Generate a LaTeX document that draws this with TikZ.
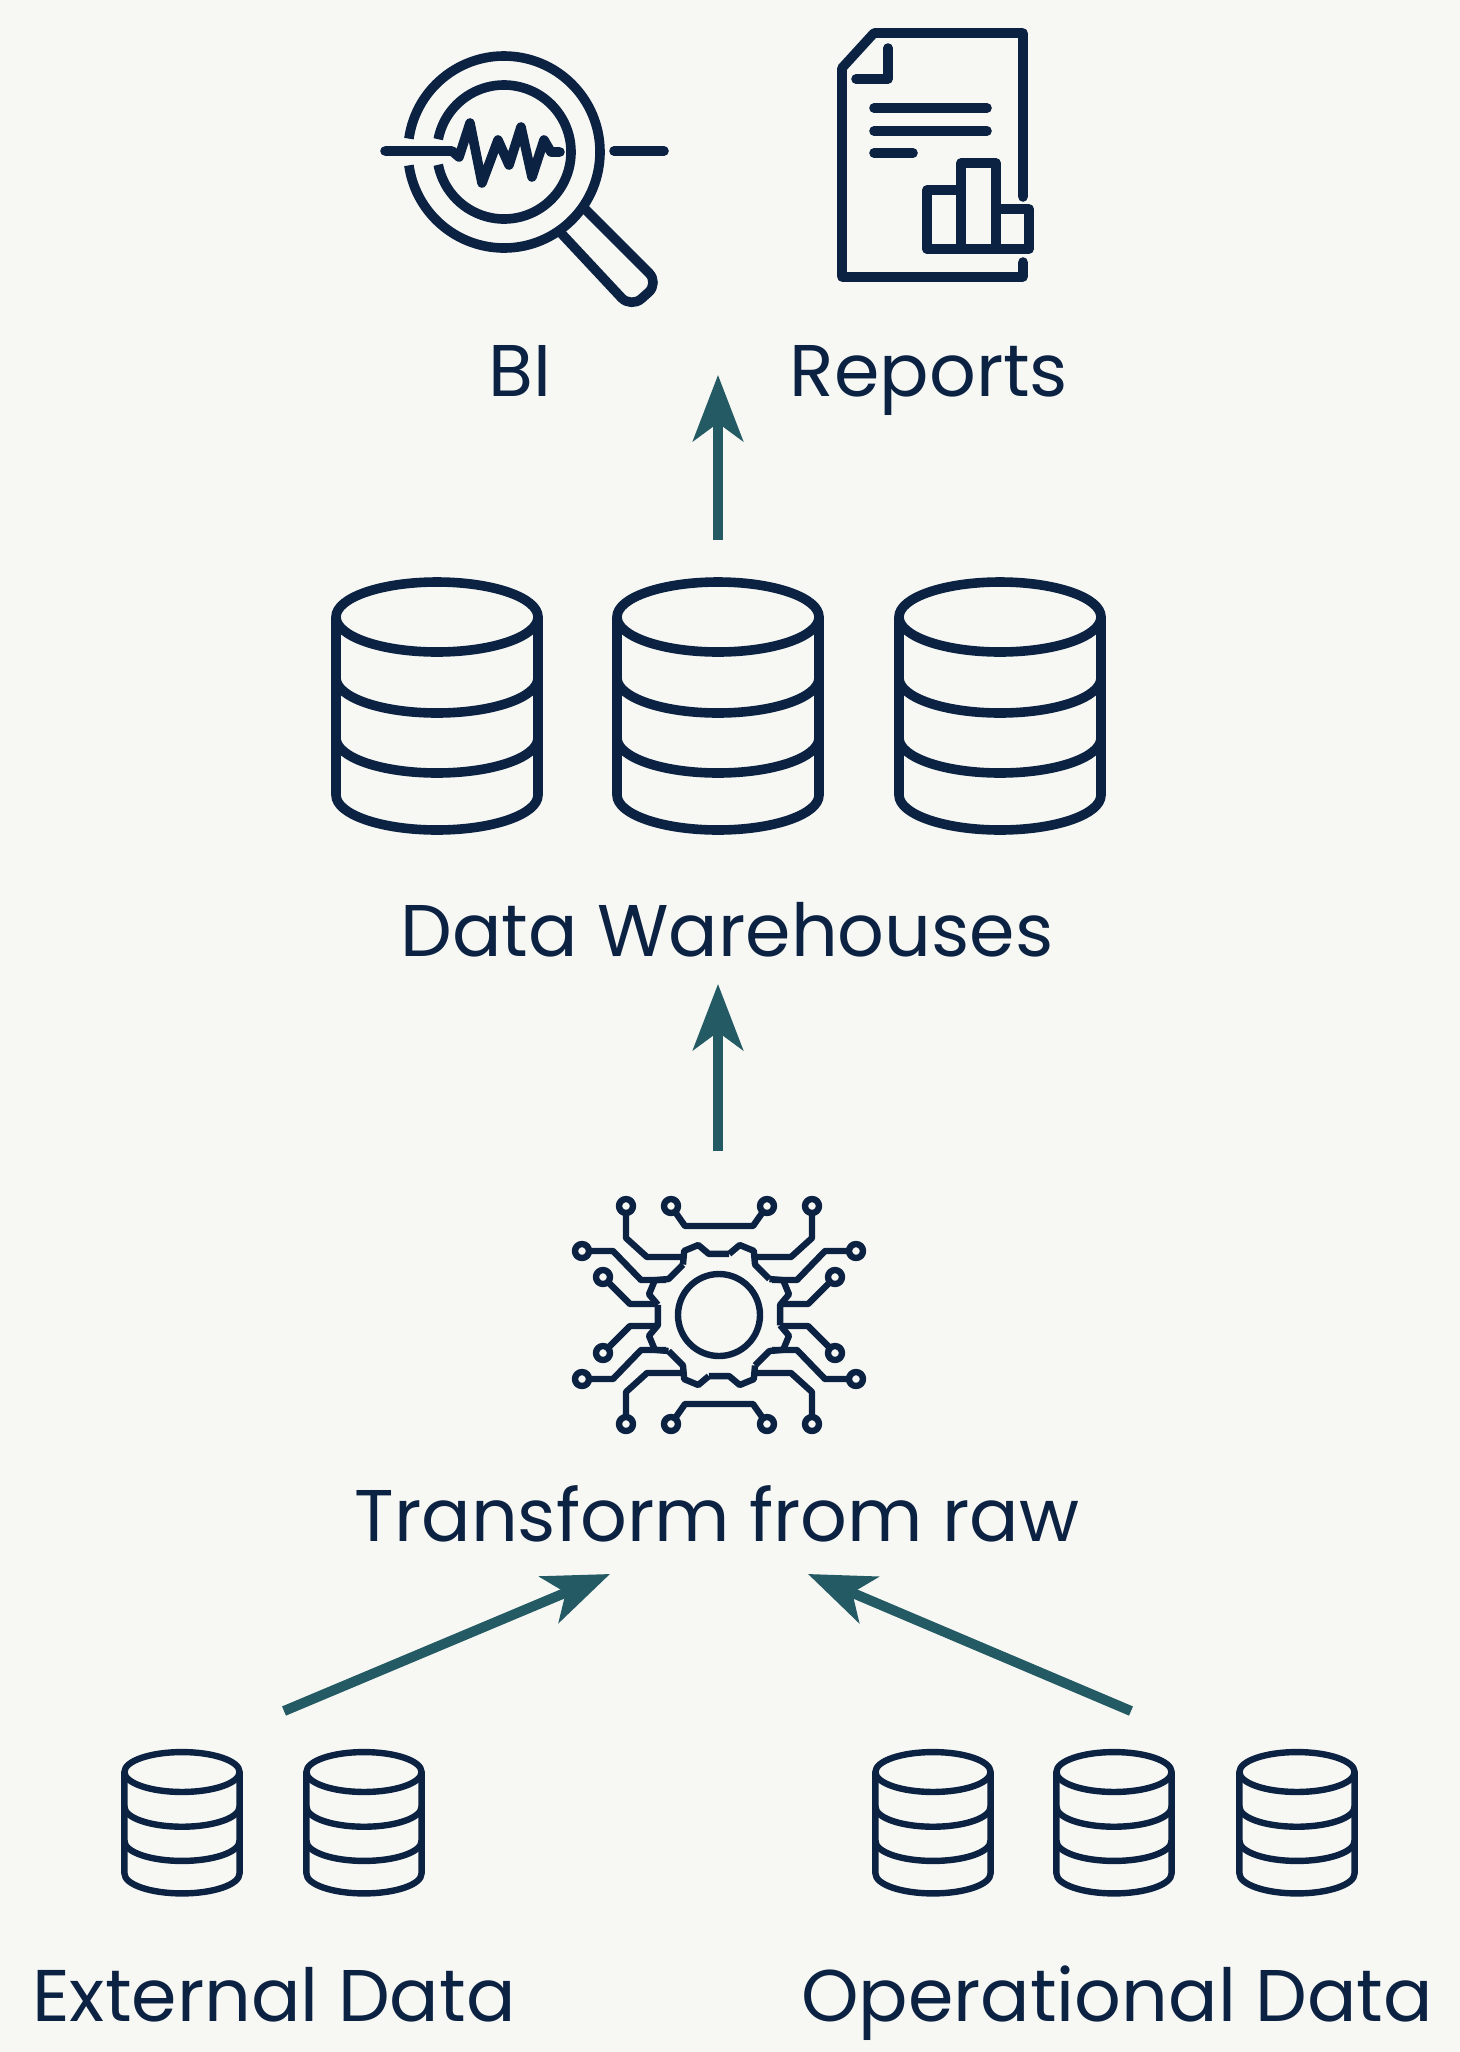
\documentclass[tikz,border=0pt]{standalone}
\usepackage{fontspec}
\setmainfont{Poppins}
\usetikzlibrary{arrows.meta}
\definecolor{paper}{HTML}{F7F8F4}
\definecolor{ink}{HTML}{0C2242}
\definecolor{flow}{HTML}{235A63}
\tikzset{
    label text/.style={text=ink, font=\fontsize{36.6}{42}\selectfont, inner sep=0pt, anchor=base},
    flow arrow/.style={draw=flow, line width=5pt, -{Stealth[length=33pt, width=25pt, inset=9pt]}},
    icon line/.style={draw=ink, line width=4.8pt, line cap=round, line join=round},
    circuit line/.style={draw=ink, line width=3.2pt, line join=round},
    dbcyl/.pic={
        \draw (0,0) ellipse [x radius=101, y radius=35];
        \draw (-101,0) -- (-101,178) arc [start angle=180, end angle=0, x radius=101, y radius=35] -- (101,0);
        \draw (-101,61) arc [start angle=180, end angle=0, x radius=101, y radius=35];
        \draw (-101,121) arc [start angle=180, end angle=0, x radius=101, y radius=35];
    }
}

\begin{document}
\begin{tikzpicture}[x=0.5pt, y=-0.5pt]
            \fill [paper] (0,0) rectangle (1460,2052);
            \useasboundingbox (0,0) rectangle (1460,2052);

            % Nodes
            \node [label text] (bi) at (520,396) {BI};
            \node [label text] (reports) at (929,396) {Reports};
            \node [label text] (warehouses) at (727,956) {Data Warehouses};
            \node [label text] (transform) at (717,1541) {Transform from raw};
            \node [label text] (external) at (274,2021) {External Data};
            \node [label text] (operational) at (1117,2021) {Operational Data};

            % Arrow ends
            \coordinate (wareOut) at (718,540);
            \coordinate (reportIn) at (718,375);
            \coordinate (transOut) at (718,1151);
            \coordinate (wareIn) at (718,984);
            \coordinate (extOut) at (284,1711);
            \coordinate (transInL) at (610,1574);
            \coordinate (opOut) at (1131,1711);
            \coordinate (transInR) at (808,1574);

            % Arrows
            \draw [flow arrow] (wareOut) -- (reportIn);
            \draw [flow arrow] (transOut) -- (wareIn);
            \draw [flow arrow] (extOut) -- (transInL);
            \draw [flow arrow] (opOut) -- (transInR);

            % Data stores
            \foreach \cx in {437,718,1000}
                \pic [icon line] at (\cx,617) {dbcyl};
            \foreach \cx in {182,364,933,1114,1297}
                \pic [icon line, line width=3.2pt, scale=.57] at (\cx,1772) {dbcyl};

            % Magnifier
            \draw [icon line, line cap=butt] (504,152) ++(-172:96) arc [start angle=-172, end angle=172, radius=96];
            \draw [icon line, line cap=butt] (504,152) ++(-169:67) arc [start angle=-169, end angle=169, radius=67];
            \draw [icon line] (385,151) -- (452,151) -- (459,157) -- (470,123) -- (482,183) -- (498,140) -- (509,165)
                -- (521,127) -- (532,177) -- (544,140) -- (551,152) -- (560,152);
            \draw [icon line] (614,151) -- (664,151);
            \draw [icon line, rounded corners=7pt, line cap=butt] (560,232) -- (631,308) -- (659,283) -- (584,208);

            % Report
            \draw [icon line] (1023,197) -- (1023,33) -- (874,33) -- (842,68) -- (842,277) -- (1023,277) -- (1023,262);
            \draw [icon line] (888,48) -- (888,79) -- (856,79);
            \draw [icon line] (874,108) -- (987,108);
            \draw [icon line] (874,131) -- (987,131);
            \draw [icon line] (874,153) -- (913,153);
            \draw [icon line] (927,249) -- (927,190) -- (961,190) -- (961,249);
            \draw [icon line] (961,190) -- (961,163) -- (996,163) -- (996,249);
            \draw [icon line] (996,209) -- (1029,209) -- (1029,249) -- (927,249);

            % Gear with traces
            \begin{scope}[shift={(719,1315)}]
                \draw [circuit line] (0,0) circle [radius=41];
                \foreach \a in {22.5,67.5,...,337.5}
                    \draw [circuit line] (\a-13:62) -- (\a-6:73) -- (\a+6:73) -- (\a+13:62) -- (\a+32:62);
                \foreach \sx in {1,-1}
                    \foreach \sy in {1,-1} {
                        \begin{scope}[xscale=\sx, yscale=\sy]
                            \draw [circuit line] (0,-89) -- (34,-89) -- (48,-109);
                            \draw [circuit line] (34,-58) -- (72,-58) -- (93,-77) -- (93,-109);
                            \draw [circuit line] (53,-35) -- (78,-35) -- (106,-64) -- (137,-64);
                            \draw [circuit line] (63,-11) -- (89,-11) -- (116,-38);
                            \foreach \px/\py in {48/-109,93/-109,137/-64,116/-38}
                                \draw [circuit line, fill=paper] (\px,\py) circle [radius=7];
                        \end{scope}
                    }
            \end{scope}
\end{tikzpicture}
\end{document}
